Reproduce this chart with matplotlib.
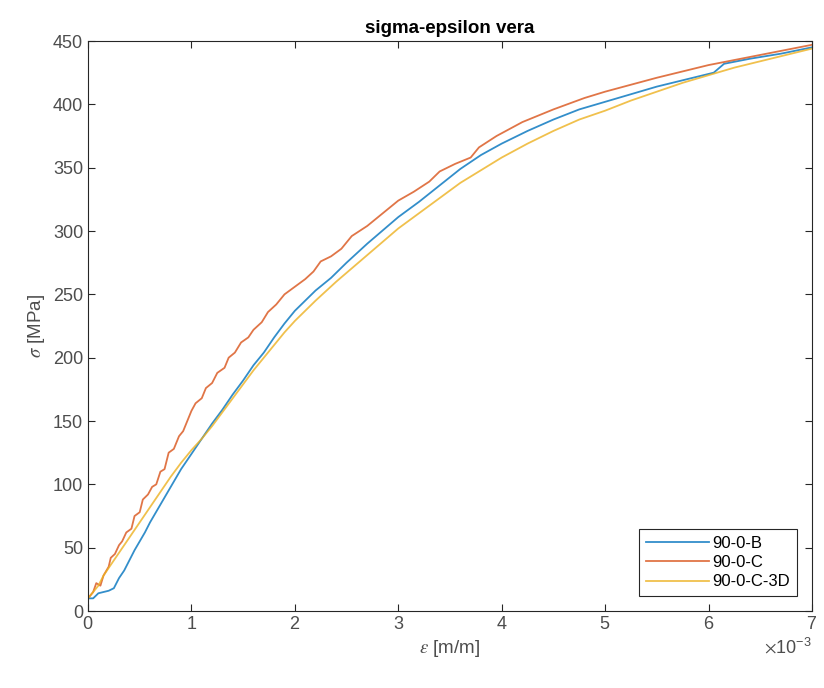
import matplotlib
matplotlib.use("Agg")
matplotlib.rcParams["font.family"] = ["Liberation Sans", "DejaVu Sans"]
matplotlib.rcParams["mathtext.fontset"] = "stix"
import numpy as np
import matplotlib.pyplot as plt
from matplotlib.ticker import ScalarFormatter

# strain values in units of 1e-3 m/m, stress in MPa
eps_b = [0, 0.05, 0.10, 0.20, 0.25, 0.30, 0.35, 0.40, 0.45, 0.50, 0.55, 0.60, 0.70,
         0.80, 0.90, 1.00, 1.10, 1.20, 1.30, 1.40, 1.50, 1.60, 1.70, 1.80, 1.90,
         2.00, 2.10, 2.20, 2.35, 2.50, 2.70, 2.90, 3.00, 3.20, 3.40, 3.60, 3.80,
         4.00, 4.25, 4.50, 4.75, 5.00, 5.25, 5.50, 5.80, 6.05, 6.15, 6.40, 6.70, 7.00]
sig_b = [10, 10, 14, 16, 18, 26, 32, 40, 48, 55, 62, 70, 84,
         98, 112, 124, 136, 148, 159, 171, 182, 194, 204, 216, 227,
         237, 245, 253, 263, 275, 290, 304, 311, 323, 336, 349, 360,
         369, 379, 388, 396, 402, 408, 414, 420, 425, 432, 436, 440, 445]

eps_c = [0, 0.05, 0.08, 0.12, 0.15, 0.20, 0.22, 0.26, 0.30, 0.33, 0.37, 0.42, 0.45,
         0.50, 0.53, 0.58, 0.62, 0.66, 0.70, 0.74, 0.78, 0.83, 0.88, 0.92, 0.96,
         1.00, 1.04, 1.10, 1.14, 1.20, 1.25, 1.32, 1.36, 1.42, 1.48, 1.55, 1.60,
         1.68, 1.74, 1.82, 1.90, 2.00, 2.10, 2.18, 2.25, 2.35, 2.45, 2.55, 2.70,
         2.85, 3.00, 3.15, 3.30, 3.40, 3.55, 3.70, 3.78, 3.95, 4.20, 4.50, 4.80,
         5.00, 5.50, 6.00, 6.50, 7.00]
sig_c = [10, 15, 22, 20, 28, 35, 42, 45, 52, 55, 62, 65, 75,
         78, 88, 92, 98, 100, 110, 112, 125, 128, 138, 142, 150,
         158, 164, 168, 176, 180, 188, 192, 200, 204, 212, 216, 222,
         228, 236, 242, 250, 256, 262, 268, 276, 280, 286, 296, 304,
         314, 324, 331, 339, 347, 353, 358, 366, 375, 386, 396, 405,
         410, 421, 431, 439, 447]

eps_3d = [0, 0.05, 0.10, 0.15, 0.20, 0.25, 0.30, 0.40, 0.50, 0.60, 0.70, 0.80, 0.90,
          1.00, 1.10, 1.20, 1.30, 1.40, 1.50, 1.60, 1.70, 1.80, 1.90, 2.00, 2.20,
          2.40, 2.60, 2.80, 3.00, 3.20, 3.40, 3.60, 3.80, 4.00, 4.25, 4.50, 4.75,
          5.00, 5.25, 5.50, 5.75, 6.00, 6.25, 6.50, 6.75, 7.00]
sig_3d = [10, 15, 20, 28, 34, 40, 46, 58, 70, 82, 94, 106, 117,
          127, 136, 146, 157, 168, 179, 190, 200, 210, 220, 229, 245,
          260, 274, 288, 302, 314, 326, 338, 348, 358, 369, 379, 388,
          395, 403, 410, 417, 423, 429, 434, 439, 444]

labels = ["90-0-B", "90-0-C", "90-0-C-3D"]
colors = ["#0072BD", "#D95319", "#EDB120"]

fig = plt.figure(figsize=(8.24, 6.88), dpi=100)
ax = fig.add_axes([0.1068, 0.1119, 0.8786, 0.8285])

series = [(eps_b, sig_b), (eps_c, sig_c), (eps_3d, sig_3d)]
for (e, s), lab, col in zip(series, labels, colors):
    ax.plot(np.array(e) * 1e-3, s, color=col, lw=1.3, alpha=0.8, label=lab)

ax.set_xlim(0, 7e-3)
ax.set_ylim(0, 450)
ax.set_yticks(np.arange(0, 451, 50))
ax.set_xticks(np.arange(0, 8) * 1e-3)
fmt = ScalarFormatter(useMathText=True)
fmt.set_powerlimits((-3, -3))
ax.xaxis.set_major_formatter(fmt)
ax.xaxis.get_offset_text().set_fontsize(13)
ax.xaxis.get_offset_text().set_color("#4d4d4d")

ax.tick_params(direction="in", top=True, right=True, length=5,
               labelsize=13, colors="#262626", labelcolor="#4d4d4d")
for sp in ax.spines.values():
    sp.set_color("#262626")
    sp.set_linewidth(0.8)

ax.set_title("sigma-epsilon vera", fontsize=13.5, fontweight="bold", pad=6)
ax.set_xlabel(r"$\epsilon$ [m/m]", fontsize=13.5, color="#4d4d4d")
ax.set_ylabel(r"$\sigma$ [MPa]", fontsize=13.5, color="#4d4d4d")

leg = ax.legend(loc="lower right", fontsize=12, handlelength=3.8, fancybox=False,
                edgecolor="#262626", framealpha=1, borderaxespad=0.9,
                handletextpad=0.2, labelspacing=0.25)
leg.get_frame().set_linewidth(0.8)

fig.savefig("out.png", dpi=100)
